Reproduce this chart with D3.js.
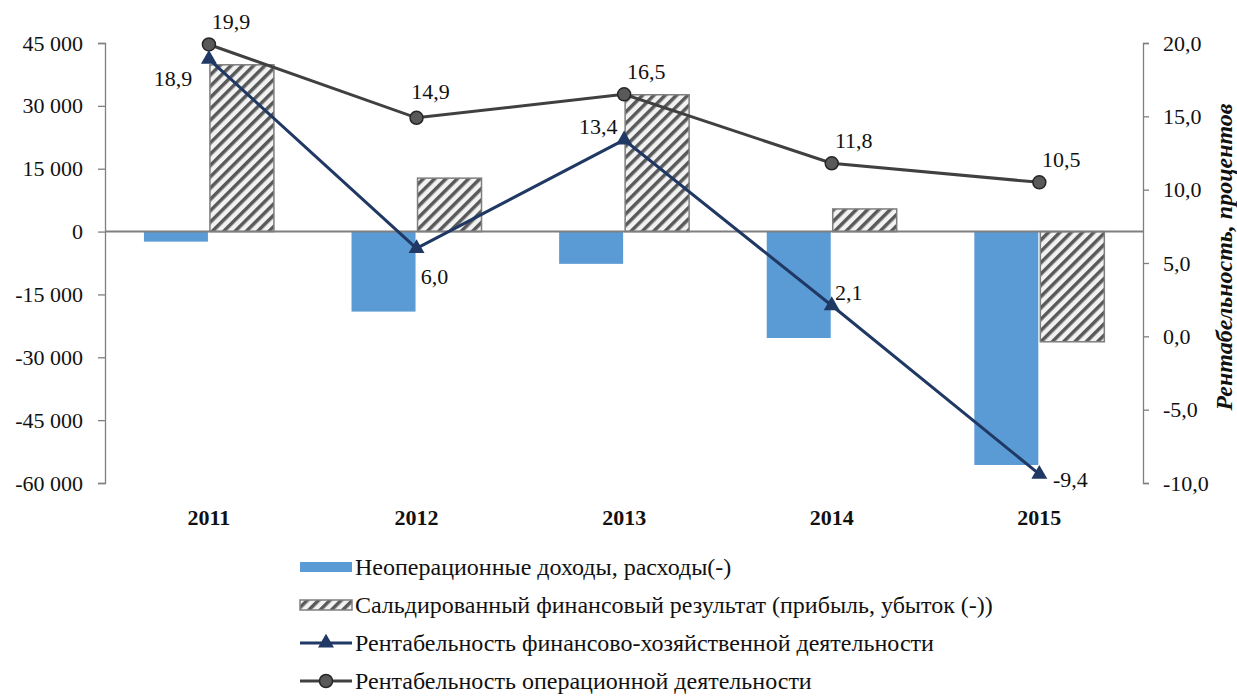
<!DOCTYPE html>
<html><head><meta charset="utf-8">
<script src="https://cdn.jsdelivr.net/npm/d3@7"></script>
<style>
html,body{margin:0;padding:0;background:#fff;}
svg text{font-family:"Liberation Serif","DejaVu Serif",serif !important;}
</style></head>
<body>
<svg id="c" width="1237" height="699"></svg>
<script>
const years = ["2011","2012","2013","2014","2015"];
const nonOperating = [-2400, -19100, -7700, -25400, -55700];
const financialResult = [39800, 12750, 32650, 5400, -26300];
const finProfitability = [18.9, 6.0, 13.4, 2.1, -9.4];
const opProfitability = [19.9, 14.9, 16.5, 11.8, 10.5];
const leftTicks = [45000, 30000, 15000, 0, -15000, -30000, -45000, -60000];
const rightTicks = [20, 15, 10, 5, 0, -5, -10];
const finLabelPos = ["left", "right-below", "left-above", "right-above", "right"];
const opLabelPos = ["above-right", "above", "above-right", "above-right", "above-right"];
const seriesNames = [
  "Неоперационные доходы, расходы(-)",
  "Сальдированный финансовый результат (прибыль, убыток (-))",
  "Рентабельность финансово-хозяйственной деятельности",
  "Рентабельность операционной деятельности"
];
const rightTitle = "Рентабельность, процентов";

const svg = d3.select("#c");
const L = 105, R = 1143, T = 43, B = 483;
const x = d3.scaleBand().domain(years).range([L, R]).paddingInner(0.375).paddingOuter(0.1875);
const yL = d3.scaleLinear().domain([-60000, 45000]).range([B, T]);
const yR = d3.scaleLinear().domain([-10, 20]).range([B, T]);

const defs = svg.append("defs");
const pat = defs.append("pattern").attr("id","hatch").attr("patternUnits","userSpaceOnUse")
  .attr("width",8).attr("height",8).attr("patternTransform","rotate(45)");
pat.append("rect").attr("width",8).attr("height",8).attr("fill","#f2f2f2");
pat.append("rect").attr("x",0).attr("width",3.5).attr("height",8).attr("fill","#595959");

const fmt = d => d3.format(",")(d).replace(/,/g," ").replace("\u2212","-");
const fmt1 = d => d3.format(".1f")(d).replace(".",",").replace("\u2212","-");
const FS = 22, LFS = 24;

// left axis
const axL = svg.append("g").attr("transform",`translate(${L},0)`)
  .call(d3.axisLeft(yL).tickValues(leftTicks).tickFormat(fmt).tickSizeOuter(0).tickSize(7).tickPadding(15));
axL.attr("font-family",null);
axL.selectAll("path,line").attr("stroke","#7f7f7f").attr("stroke-width",1.3);
axL.selectAll("text").attr("font-size",FS).attr("fill","#111");

const axR = svg.append("g").attr("transform",`translate(${R},0)`)
  .call(d3.axisRight(yR).tickValues(rightTicks).tickFormat(fmt1).tickSizeOuter(0).tickSize(6).tickPadding(14));
axR.attr("font-family",null);
axR.selectAll("path,line").attr("stroke","#7f7f7f").attr("stroke-width",1.3);
axR.selectAll("text").attr("font-size",FS).attr("fill","#111");

// bars
const bw = 64;
svg.append("g").selectAll("rect").data(years).join("rect")
  .attr("x", d => x(d))
  .attr("width", bw)
  .attr("y", (d,i) => Math.min(yL(0), yL(nonOperating[i])))
  .attr("height", (d,i) => Math.abs(yL(nonOperating[i]) - yL(0)))
  .attr("fill", "#5b9bd5");
svg.append("g").selectAll("rect").data(years).join("rect")
  .attr("x", d => x(d) + bw + 2)
  .attr("width", bw)
  .attr("y", (d,i) => Math.min(yL(0), yL(financialResult[i])))
  .attr("height", (d,i) => Math.abs(yL(financialResult[i]) - yL(0)))
  .attr("fill", "url(#hatch)").attr("stroke","#7f7f7f").attr("stroke-width",1.5);

// zero line
svg.append("line").attr("x1",L).attr("x2",R).attr("y1",yL(0)).attr("y2",yL(0))
  .attr("stroke","#7f7f7f").attr("stroke-width",2);

// year labels
svg.append("g").selectAll("text").data(years).join("text")
  .attr("x", d => x(d) + bw + 1).attr("y", 525)
  .attr("text-anchor","middle").attr("font-size",FS).attr("font-weight","bold").attr("fill","#111")
  .text(d=>d);

const cx = d => x(d) + bw + 1;

svg.append("path").datum(years)
  .attr("d", d3.line().x(cx).y((d,i)=>yR(opProfitability[i])))
  .attr("fill","none").attr("stroke","#404040").attr("stroke-width",3);
svg.append("path").datum(years)
  .attr("d", d3.line().x(cx).y((d,i)=>yR(finProfitability[i])))
  .attr("fill","none").attr("stroke","#1f3864").attr("stroke-width",3);

svg.append("g").selectAll("circle").data(years).join("circle")
  .attr("cx", cx).attr("cy",(d,i)=>yR(opProfitability[i])).attr("r",6.5)
  .attr("fill","#595959").attr("stroke","#262626").attr("stroke-width",1.5);

const tri = d3.symbol().type(d3.symbolTriangle).size(110);
svg.append("g").selectAll("path").data(years).join("path")
  .attr("d", tri).attr("transform",(d,i)=>`translate(${cx(d)},${yR(finProfitability[i])})`)
  .attr("fill","#1f3864");

const offs = {
  "left":[-36,27], "right-below":[18,36], "left-above":[-26,-6], "right-above":[17,-6], "right":[31,13],
  "above-right":[22,-15], "above":[14,-19]
};
svg.append("g").selectAll("text").data(years).join("text")
  .attr("x",(d,i)=>cx(d)+offs[finLabelPos[i]][0]).attr("y",(d,i)=>yR(finProfitability[i])+offs[finLabelPos[i]][1])
  .attr("text-anchor","middle").attr("font-size",FS).attr("fill","#111")
  .text((d,i)=>fmt1(finProfitability[i]));
svg.append("g").selectAll("text").data(years).join("text")
  .attr("x",(d,i)=>cx(d)+offs[opLabelPos[i]][0]).attr("y",(d,i)=>yR(opProfitability[i])+offs[opLabelPos[i]][1])
  .attr("text-anchor","middle").attr("font-size",FS).attr("fill","#111")
  .text((d,i)=>fmt1(opProfitability[i]));

// right title
svg.append("text").attr("transform","translate(1232,257) rotate(-90)")
  .attr("text-anchor","middle").attr("font-size",LFS).attr("font-weight","bold").attr("font-style","italic")
  .attr("fill","#111").text(rightTitle);

// legend
const lg = svg.append("g");
const ly = [567, 605, 643, 681];
lg.append("rect").attr("x",300).attr("y",ly[0]-5).attr("width",52).attr("height",10).attr("fill","#5b9bd5");
lg.append("rect").attr("x",300).attr("y",ly[1]-5).attr("width",52).attr("height",10).attr("fill","url(#hatch)").attr("stroke","#7f7f7f").attr("stroke-width",1.5);
lg.append("line").attr("x1",300).attr("x2",352).attr("y1",ly[2]).attr("y2",ly[2]).attr("stroke","#1f3864").attr("stroke-width",3);
lg.append("path").attr("d",tri).attr("transform",`translate(326,${ly[2]})`).attr("fill","#1f3864");
lg.append("line").attr("x1",300).attr("x2",352).attr("y1",ly[3]).attr("y2",ly[3]).attr("stroke","#404040").attr("stroke-width",3);
lg.append("circle").attr("cx",326).attr("cy",ly[3]).attr("r",6.5).attr("fill","#595959").attr("stroke","#262626").attr("stroke-width",1.5);
lg.selectAll("text").data(seriesNames).join("text")
  .attr("x",355).attr("y",(d,i)=>ly[i]+8).attr("font-size",LFS).attr("fill","#111").text(d=>d);
</script>
</body></html>
